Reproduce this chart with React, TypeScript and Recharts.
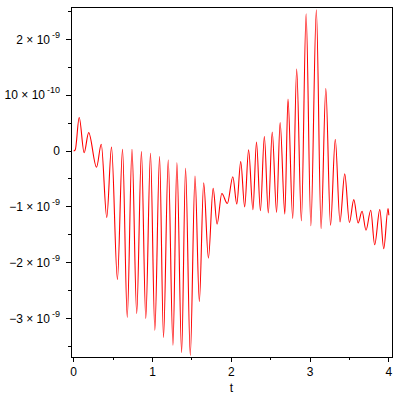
/* ── Oscillating signal vs t, Maple-style frame ── */

import React from 'react';
import { LineChart, Line, XAxis, YAxis, ReferenceArea } from 'recharts';

// sample times and signal (values in units of 1e-9)
const tValues = [
  0, 0.02, 0.07, 0.133, 0.19, 0.29, 0.35, 0.42, 0.48, 0.555, 0.62, 0.68,
  0.74, 0.8, 0.86, 0.915, 0.975, 1.03, 1.09, 1.14, 1.2, 1.26, 1.31, 1.37,
  1.42, 1.48, 1.54, 1.595, 1.65, 1.71, 1.77, 1.82, 1.88, 1.95, 2.02, 2.07,
  2.12, 2.17, 2.22, 2.275, 2.32, 2.37, 2.42, 2.47, 2.52, 2.575, 2.62, 2.68,
  2.72, 2.78, 2.83, 2.89, 2.95, 3.01, 3.08, 3.14, 3.2, 3.26, 3.32, 3.38,
  3.44, 3.5, 3.555, 3.61, 3.66, 3.71, 3.77, 3.82, 3.885, 3.935, 3.99, 4.0,
];
const signalNano = [
  0, 0.02, 0.6, -0.03, 0.33, -0.29, 0.12, -1.19, 0.07, -2.3, 0.03, -2.98,
  0.03, -2.91, -0.01, -3.0, -0.04, -3.21, -0.1, -3.34, -0.16, -3.48, -0.21, -3.61,
  -0.31, -3.66, -0.45, -2.7, -0.57, -1.92, -0.67, -1.31, -0.76, -0.94, -0.46, -0.95,
  -0.19, -1.0, 0.02, -1.05, 0.16, -1.07, 0.26, -1.11, 0.34, -1.1, 0.51, -1.13,
  0.93, -1.21, 1.47, -1.25, 2.46, -1.34, 2.53, -1.39, 1.12, -1.33, 0.21, -1.27,
  -0.41, -1.28, -0.87, -1.29, -1.08, -1.42, -1.06, -1.68, -1.05, -1.75, -1.03, -1.15,
];

const xMajorTicks = [0, 1, 2, 3, 4];
const xMinorTicks = [0.5, 1.5, 2.5, 3.5];
const yMajorTicks = [-3, -2, -1, 0, 1, 2];
const yMinorTicks = [-3.5, -2.5, -1.5, -0.5, 0.5, 1.5, 2.5];
const yTickBase = ['−3 × 10', '−2 × 10', '−1 × 10', '0', '10 × 10', '2 × 10'];
const yTickExp = ['-9', '-9', '-9', '', '-10', '-9'];

const X_DOMAIN = [-0.034, 4.04];
const Y_DOMAIN = [-3.69, 2.58];
const FONT = '"Liberation Sans", Arial, sans-serif';

const data = tValues.map((t, i) => ({ t, v: signalNano[i] }));

function YTick(props: any) {
  const { x, y, payload } = props;
  const i = yMajorTicks.indexOf(payload.value);
  const major = i >= 0;
  return (
    <g>
      <line x1={x - (major ? 5 : 3)} x2={x} y1={y} y2={y} stroke="#000" shapeRendering="crispEdges" />
      {major && (
        <text x={x - 11} y={y + 4.3} textAnchor="end" fontSize={12} fill="#000" fontFamily={FONT}>
          {yTickBase[i]}
          {yTickExp[i] && (
            <tspan dx={2} dy={-6} fontSize={9}>
              {yTickExp[i]}
            </tspan>
          )}
        </text>
      )}
    </g>
  );
}

function XTick(props: any) {
  const { x, y, payload } = props;
  const major = xMajorTicks.includes(payload.value);
  return (
    <g>
      <line x1={x} x2={x} y1={y} y2={y + (major ? 5 : 3)} stroke="#000" shapeRendering="crispEdges" />
      {major && (
        <text x={x} y={y + 19} textAnchor="middle" fontSize={12} fill="#000" fontFamily={FONT}>
          {payload.value}
        </text>
      )}
    </g>
  );
}

export default function App() {
  const frame = { stroke: '#000', shapeRendering: 'crispEdges' };
  return (
    <div style={{ position: 'absolute', left: 0, top: 0, width: 400, height: 400, background: '#fff' }}>
      <LineChart width={400} height={400} data={data} margin={{ top: 7, right: 8, bottom: 0, left: 0 }}>
        <XAxis
          type="number"
          dataKey="t"
          domain={X_DOMAIN}
          allowDataOverflow
          ticks={[...xMajorTicks, ...xMinorTicks]}
          interval={0}
          height={43}
          tickSize={0}
          tickMargin={0}
          tickLine={false}
          axisLine={frame}
          tick={<XTick />}
          label={{ value: 't', position: 'insideBottom', offset: 8, fill: '#000', fontSize: 12, fontFamily: FONT }}
        />
        <YAxis
          type="number"
          domain={Y_DOMAIN}
          allowDataOverflow
          ticks={[...yMajorTicks, ...yMinorTicks]}
          interval={0}
          width={71}
          tickSize={0}
          tickMargin={0}
          tickLine={false}
          axisLine={frame}
          tick={<YTick />}
        />
        {/* plot frame (top and right edges) */}
        <ReferenceArea
          x1={X_DOMAIN[0]}
          x2={X_DOMAIN[1]}
          y1={Y_DOMAIN[0]}
          y2={Y_DOMAIN[1]}
          fill="none"
          stroke="#000"
          strokeWidth={1}
          shapeRendering="crispEdges"
          ifOverflow="visible"
        />
        <Line
          type="monotone"
          dataKey="v"
          stroke="#ff0000"
          strokeWidth={1.1}
          dot={false}
          isAnimationActive={false}
        />
      </LineChart>
    </div>
  );
}
